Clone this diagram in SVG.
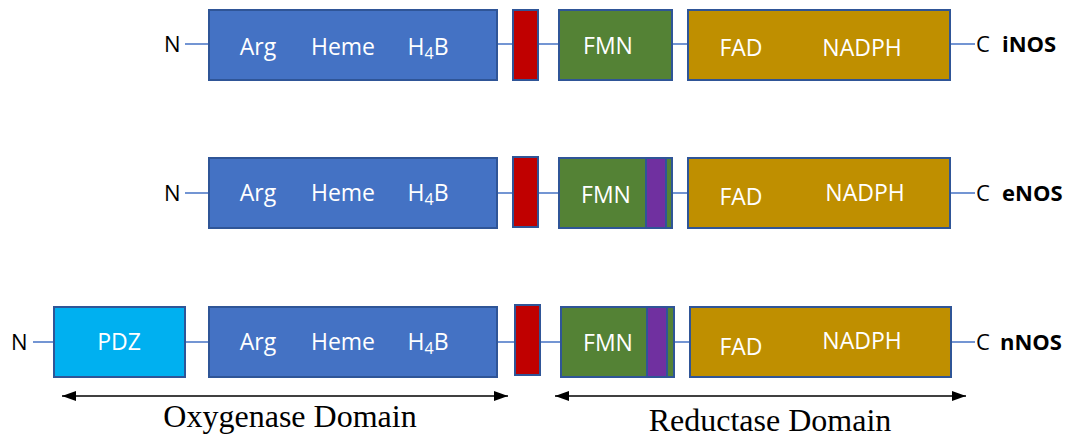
<svg xmlns="http://www.w3.org/2000/svg" width="1070" height="436" viewBox="0 0 1070 436">
<defs>
<style>
.box{stroke:#2F5597;stroke-width:2}
.blue{fill:#4472C4}.red{fill:#C00000}.green{fill:#548235}.gold{fill:#BF8F00}.purple{fill:#7030A0}.cyan{fill:#00B0F0}
.lnk{stroke:#4472C4;stroke-width:1.5;fill:none}
.lbl{font-family:"Open Sans","Liberation Sans",sans-serif;font-size:23px;fill:#fff;text-anchor:middle}
.term{font-family:"Open Sans","Liberation Sans",sans-serif;font-size:22px;fill:#000}
.name{font-family:"Open Sans","Liberation Sans",sans-serif;font-size:22px;font-weight:bold;fill:#000}
.dom{font-family:"Liberation Serif",serif;font-size:32px;fill:#000;text-anchor:middle}
.arr{stroke:#000;stroke-width:1.5;fill:none}
</style>
<marker id="ah" viewBox="0 0 14 10" refX="14" refY="5" markerWidth="14" markerHeight="10" markerUnits="userSpaceOnUse" orient="auto-start-reverse">
<path d="M0,0 L14,5 L0,10 Z" fill="#000"/>
</marker>
</defs>
<g id="connectors">
<line class="lnk" x1="185" y1="44" x2="975" y2="44"/>
<line class="lnk" x1="185" y1="193" x2="975" y2="193"/>
<line class="lnk" x1="33" y1="342" x2="975" y2="342"/>
<line class="arr" x1="62" y1="396" x2="508" y2="396" marker-start="url(#ah)" marker-end="url(#ah)"/>
<line class="arr" x1="555" y1="396" x2="966" y2="396" marker-start="url(#ah)" marker-end="url(#ah)"/>
</g>
<g id="iNOS">
<text class="term" x="164" y="52">N</text>
<rect id="iNOS-oxy" class="box blue" x="209" y="10" width="288" height="70"/>
<text class="lbl" x="258" y="55">Arg</text>
<text class="lbl" x="343" y="55">Heme</text>
<text class="lbl" x="428" y="55">H<tspan font-size="16" dy="4">4</tspan><tspan dy="-4">B</tspan></text>
<rect id="iNOS-cam" class="box red" x="513" y="10" width="25" height="70"/>
<rect id="iNOS-fmn" class="box green" x="559" y="10" width="113" height="70"/>
<text class="lbl" x="608" y="54">FMN</text>
<rect id="iNOS-fad" class="box gold" x="688" y="10" width="262" height="70"/>
<text class="lbl" x="741" y="56">FAD</text>
<text class="lbl" x="862" y="56">NADPH</text>
<text class="term" x="976" y="52">C</text>
<text class="name" x="1002" y="52">iNOS</text>
</g>
<g id="eNOS">
<text class="term" x="164" y="201">N</text>
<rect class="box blue" x="209" y="158" width="288" height="70"/>
<text class="lbl" x="258" y="201">Arg</text>
<text class="lbl" x="343" y="201">Heme</text>
<text class="lbl" x="428" y="201">H<tspan font-size="16" dy="4">4</tspan><tspan dy="-4">B</tspan></text>
<rect class="box red" x="513" y="157" width="25" height="70"/>
<rect class="box green" x="559" y="158" width="113" height="70"/>
<rect class="box purple" x="646" y="158" width="20" height="70"/>
<text class="lbl" x="606" y="203">FMN</text>
<rect class="box gold" x="688" y="158" width="262" height="70"/>
<text class="lbl" x="741" y="205">FAD</text>
<text class="lbl" x="865" y="201">NADPH</text>
<text class="term" x="976" y="201">C</text>
<text class="name" x="1002" y="201">eNOS</text>
</g>
<g id="nNOS">
<text class="term" x="11" y="350">N</text>
<rect class="box cyan" x="54" y="307" width="131" height="70"/>
<text class="lbl" x="119" y="350">PDZ</text>
<rect class="box blue" x="209" y="307" width="288" height="70"/>
<text class="lbl" x="258" y="350">Arg</text>
<text class="lbl" x="343" y="350">Heme</text>
<text class="lbl" x="428" y="350">H<tspan font-size="16" dy="4">4</tspan><tspan dy="-4">B</tspan></text>
<rect class="box red" x="515" y="305" width="25" height="70"/>
<rect class="box green" x="561" y="307" width="113" height="70"/>
<rect class="box purple" x="647" y="307" width="20" height="70"/>
<text class="lbl" x="608" y="351">FMN</text>
<rect class="box gold" x="690" y="307" width="261" height="70"/>
<text class="lbl" x="741" y="355">FAD</text>
<text class="lbl" x="862" y="349">NADPH</text>
<text class="term" x="976" y="350">C</text>
<text class="name" x="1000" y="350">nNOS</text>
</g>
<g id="domains">
<text class="dom" x="290" y="427">Oxygenase Domain</text>
<text class="dom" x="770" y="431">Reductase Domain</text>
</g>
</svg>
